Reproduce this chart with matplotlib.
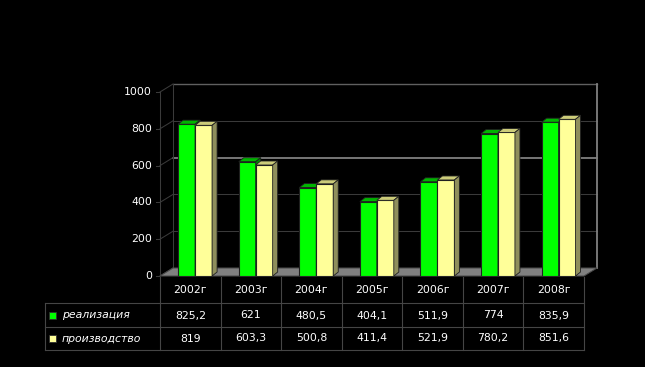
#! /usr/bin/env python3
# столбчатая диаграмма с таблицей данных: реализация и производство, 2002-2008

import numpy as np
import matplotlib.pyplot as plt
from matplotlib.patches import Polygon, Rectangle
from matplotlib.transforms import blended_transform_factory

years = ['2002г', '2003г', '2004г', '2005г', '2006г', '2007г', '2008г']
realiz = [825.2, 621, 480.5, 404.1, 511.9, 774, 835.9]
proizv = [819, 603.3, 500.8, 411.4, 521.9, 780.2, 851.6]
series_names = ['реализация', 'производство']
yticks = [0, 200, 400, 600, 800, 1000]

W, H = 645, 367
green, green_top, green_side = '#00ff00', '#00b400', '#008a00'
yellow, yellow_top, yellow_side = '#ffff99', '#cccc7a', '#8f8f5c'
grid_c = '#3a3a3a'
font = dict(color='white', fontsize=7.8, family='DejaVu Sans')

fig = plt.figure(figsize=(W / 100, H / 100), dpi=100, facecolor='black')

# оси в пикселях для таблицы
px = fig.add_axes([0, 0, 1, 1])
px.set_xlim(0, W)
px.set_ylim(H, 0)
px.axis('off')

# основная область графика (передняя плоскость)
ax = fig.add_axes([160 / W, (H - 276) / H, 424 / W, 184 / H])
ax.set_xlim(-0.5, 6.5)
ax.set_ylim(0, 1000)
ax.axis('off')

xu = 424 / 7       # пикселей на категорию
yu = 184 / 1000    # пикселей на единицу
wdx, wdy = 13 / xu, 8 / yu     # глубина стенки
bdx, bdy = 5 / xu, 4 / yu      # глубина столбца
bw, shift = 0.28, 0.08

# пол
ax.add_patch(Polygon([(-0.5, 0), (6.5, 0), (6.5 + wdx, wdy), (-0.5 + wdx, wdy)],
                     closed=True, fc='#808080', ec='#4a4a4a', lw=0.75,
                     clip_on=False, zorder=1))

# задняя стенка: сетка
for v in yticks[1:]:
    c, lw = {600: ('#808080', 1.3), 1000: ('#606060', 1.0)}.get(v, (grid_c, 0.75))
    ax.plot([-0.5 + wdx, 6.5 + wdx], [v + wdy] * 2, color=c, lw=lw,
            clip_on=False, zorder=0.5)
ax.plot([-0.5 + wdx] * 2, [wdy, 1000 + wdy], color=grid_c, lw=0.75,
        clip_on=False, zorder=0.5)
ax.plot([6.5 + wdx] * 2, [wdy, 1000 + wdy], color='#808080', lw=1.3,
        clip_on=False, zorder=0.5)

# левая стенка, ось и подписи
ax.plot([-0.5, -0.5], [0, 1000], color=grid_c, lw=0.75, clip_on=False, zorder=0.5)
for v in yticks:
    ax.plot([-0.5, -0.5 + wdx], [v, v + wdy], color=grid_c, lw=0.75,
            clip_on=False, zorder=0.5)
    ax.plot([-0.5 - 4 / xu, -0.5], [v, v], color=grid_c, lw=0.75, clip_on=False)
    ax.text(-0.5 - 8 / xu, v, str(v), ha='right', va='center', **font)


def bar3d(x0, h, face, top, side):
    ax.bar(x0, h, width=bw, align='edge', color=face, ec='#202020', lw=0.8,
           zorder=3)
    x1 = x0 + bw
    ax.add_patch(Polygon([(x0, h), (x1, h), (x1 + bdx, h + bdy), (x0 + bdx, h + bdy)],
                         closed=True, fc=top, ec='#202020', lw=0.6, zorder=3,
                         clip_on=False))
    ax.add_patch(Polygon([(x1, 0), (x1 + bdx, bdy), (x1 + bdx, h + bdy), (x1, h)],
                         closed=True, fc=side, ec='#202020', lw=0.6, zorder=3,
                         clip_on=False))


x = np.arange(len(years))
for i in x:
    bar3d(i + shift - bw, realiz[i], green, green_top, green_side)
    bar3d(i + shift, proizv[i], yellow, yellow_top, yellow_side)

# таблица данных
tr = blended_transform_factory(ax.transData, px.transData)
line_c = '#454545'
for e in np.arange(-0.5, 7, 1):
    px.plot([e, e], [277, 350], color=line_c, lw=0.8, transform=tr)
px.plot([45, 45], [303, 350], color=line_c, lw=0.8)
right = ax.transData.transform((6.5, 0))[0]
for yy in (303, 327, 350):
    px.plot([45, right], [yy, yy], color=line_c, lw=0.8)


def fmt(v):
    return f'{v:g}'.replace('.', ',')


for i in x:
    px.text(i, 290, years[i], ha='center', va='center', transform=tr, **font)
    px.text(i, 315.5, fmt(realiz[i]), ha='center', va='center', transform=tr, **font)
    px.text(i, 338.5, fmt(proizv[i]), ha='center', va='center', transform=tr, **font)

for yy, name, c in ((315.5, series_names[0], green), (338.5, series_names[1], yellow)):
    px.add_patch(Rectangle((49, yy - 3.5), 7, 7, fc=c, ec='#303030', lw=0.6))
    px.text(62, yy, name, ha='left', va='center', style='italic', **font)

fig.savefig('out.png', dpi=100, facecolor='black')
